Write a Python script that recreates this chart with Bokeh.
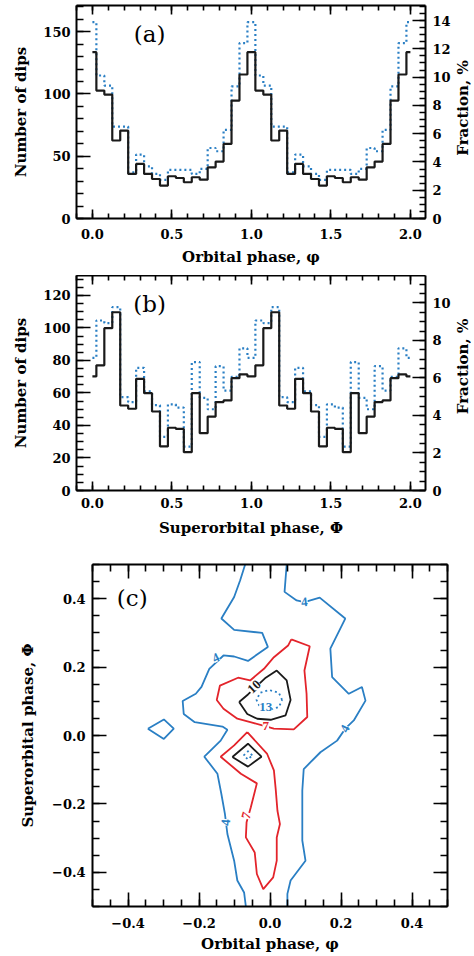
from bokeh.plotting import figure
from bokeh.models import (Range1d, LinearAxis, SingleIntervalTicker, ColumnDataSource,
                          Label, LabelSet, CustomJSTickFormatter, CustomLabelingPolicy)
from bokeh.layouts import column, row
from bokeh.embed import file_html
from bokeh.resources import INLINE
from bokeh.core.properties import value
import math

FONT = "DejaVu Serif"
BLUE = "#2a7fc4"
RED = "#e3242b"
BLACK = "#1a1a1a"

# ---------------- data ----------------
# bin centres of one cycle (phase)
phase_bins = [0.00, 0.05, 0.10, 0.15, 0.20, 0.25, 0.30, 0.35, 0.40, 0.45,
              0.50, 0.55, 0.60, 0.65, 0.70, 0.75, 0.80, 0.85, 0.90, 0.95]

# panel (a): number of dips vs orbital phase
orb_dips = [133.5, 102.7, 99.5, 62.6, 70.6, 35.8, 43.8, 35.8, 31.7, 26.4,
            33.9, 32.5, 29.1, 33.1, 31.2, 41.1, 45.7, 59.9, 94.7, 115.6]
orb_dotted = [157.6, 114.8, 106.7, 73.8, 73.8, 37.1, 51.3, 41.9, 35.8, 31.0,
              39.0, 39.0, 39.0, 35.8, 39.8, 56.6, 54.0, 71.1, 106.0, 140.8]

# panel (b): number of dips vs superorbital phase
sup_dips = [70.2, 77.0, 99.9, 109.7, 52.3, 50.3, 68.7, 59.9, 48.6, 27.1,
            38.6, 37.9, 23.6, 59.9, 35.3, 45.5, 54.4, 55.4, 69.1, 71.4]
sup_dotted = [81.6, 104.6, 103.0, 112.8, 57.4, 54.4, 75.5, 61.0, 52.5, 33.0,
              53.0, 51.0, 27.0, 79.0, 57.0, 50.0, 76.5, 61.5, 70.0, 87.5]

# dips per 1 % on the right-hand axes
orb_dips_per_pct = 11.35
sup_dips_per_pct = 11.54

# panel (c): contour lines (orbital phase, superorbital phase)
blue_left_x = [-0.070, -0.084, -0.101, -0.137, -0.101, -0.022, -0.006, -0.062, -0.101, -0.131,
               -0.171, -0.193, -0.209, -0.246, -0.243, -0.212, -0.134, -0.120, -0.139, -0.185,
               -0.148, -0.137, -0.127, -0.120, -0.101, -0.092, -0.073, -0.068]
blue_left_y = [0.500, 0.454, 0.405, 0.342, 0.309, 0.300, 0.259, 0.218, 0.231, 0.234,
               0.195, 0.142, 0.122, 0.101, 0.063, 0.039, 0.026, 0.017, -0.015, -0.062,
               -0.112, -0.171, -0.229, -0.288, -0.366, -0.424, -0.459, -0.500]
blue_right_x = [0.047, 0.041, 0.075, 0.097, 0.140, 0.212, 0.170, 0.175, 0.222, 0.259, 0.269,
                0.236, 0.212, 0.189, 0.142, 0.095, 0.091, 0.091, 0.100, 0.058, 0.049, 0.049]
blue_right_y = [0.500, 0.420, 0.395, 0.390, 0.403, 0.342, 0.254, 0.171, 0.122, 0.142, 0.102,
                0.044, 0.020, -0.015, -0.049, -0.098, -0.161, -0.307, -0.366, -0.424, -0.463, -0.500]
blue_island_x = [-0.344, -0.299, -0.271, -0.299, -0.344]
blue_island_y = [0.020, 0.047, 0.020, -0.010, 0.020]
red_upper_x = [0.060, 0.112, 0.097, 0.103, 0.105, 0.067, 0.011, -0.045, -0.092, -0.131,
               -0.150, -0.141, -0.090, -0.056, -0.017, 0.011, 0.051, 0.060]
red_upper_y = [0.281, 0.261, 0.190, 0.122, 0.054, 0.018, 0.020, 0.036, 0.049, 0.078,
               0.104, 0.146, 0.169, 0.161, 0.195, 0.229, 0.263, 0.281]
red_lower_x = [-0.064, -0.008, 0.011, 0.016, 0.021, 0.028, 0.019, 0.019, 0.009, -0.019,
               -0.037, -0.043, -0.068, -0.066, -0.054, -0.037, -0.082, -0.139, -0.101, -0.064]
red_lower_y = [0.010, -0.054, -0.102, -0.156, -0.220, -0.259, -0.298, -0.366, -0.415, -0.449,
               -0.405, -0.342, -0.298, -0.254, -0.210, -0.140, -0.112, -0.062, -0.029, 0.010]
black_upper_x = [-0.087, -0.062, -0.012, 0.019, 0.047, 0.058, 0.044, 0.002, -0.036, -0.064, -0.087]
black_upper_y = [0.098, 0.120, 0.169, 0.190, 0.161, 0.104, 0.059, 0.046, 0.049, 0.063, 0.098]
black_lower_x = [-0.106, -0.062, -0.024, -0.062, -0.106]
black_lower_y = [-0.063, -0.024, -0.062, -0.091, -0.063]
dot13_x = [0.034, 0.025, -0.002, -0.028, -0.038, -0.028, -0.002, 0.025, 0.034]
dot13_y = [0.104, 0.125, 0.133, 0.125, 0.104, 0.083, 0.075, 0.083, 0.104]
dot13b_x = [-0.050, -0.062, -0.074, -0.062, -0.050]
dot13b_y = [-0.058, -0.046, -0.058, -0.070, -0.058]

lab_x = [-0.152, 0.097, 0.212, -0.124, -0.012, -0.066, -0.044, -0.012]
lab_y = [0.227, 0.390, 0.020, -0.254, 0.029, -0.234, 0.142, 0.083]
lab_text = ["4", "4", "4", "4", "7", "7", "10", "13"]
lab_color = [BLUE, BLUE, BLUE, BLUE, RED, RED, BLACK, BLUE]
lab_angle = [0.45, 0.1, 1.1, 1.5, 0.0, 1.3, 0.75, 0.0]

NO_LABELS = CustomLabelingPolicy(code="""
for (const i of indices) { indices.unset(i) }
return indices
""")
FMT1 = CustomJSTickFormatter(code="""
    const t = Math.round(tick * 10) / 10;
    return (t < 0 ? "\\u2212" : "") + Math.abs(t).toFixed(1);
""")


def two_cycles_x(bins):
    return list(bins) + [b + 1 for b in bins] + [bins[0] + 2]


def two_cycles_y(vals):
    return list(vals) + list(vals) + [vals[0]]


def style_axis(ax, tick_in, minor_in, show_labels=True, label_size="13px",
               label_standoff=6, axis_label_standoff=5):
    ax.axis_line_width = 2
    ax.axis_line_color = "black"
    ax.major_tick_in = tick_in
    ax.major_tick_out = 0
    ax.minor_tick_in = minor_in
    ax.minor_tick_out = 0
    ax.major_tick_line_width = 1.6
    ax.minor_tick_line_width = 1.6
    ax.major_tick_line_color = "black"
    ax.minor_tick_line_color = "black"
    ax.major_label_text_font = FONT
    ax.major_label_text_font_style = "bold"
    ax.major_label_text_color = "black"
    if show_labels:
        ax.major_label_text_font_size = label_size
        ax.major_label_standoff = label_standoff
    else:
        ax.major_label_text_font_size = "0px"
        ax.major_label_standoff = 0
        ax.major_label_policy = NO_LABELS
    ax.axis_label_text_font = FONT
    ax.axis_label_text_font_style = "bold"
    ax.axis_label_text_font_size = "15px"
    ax.axis_label_text_color = "black"
    ax.axis_label_standoff = axis_label_standoff


def base_fig(xr, yr, fw, fh, left, right, top, bottom):
    p = figure(x_range=xr, y_range=yr, frame_width=fw, frame_height=fh,
               min_border_left=left, min_border_right=right,
               min_border_top=top, min_border_bottom=bottom,
               output_backend="svg", toolbar_location=None,
               x_axis_type=None, y_axis_type=None)
    p.grid.visible = False
    p.outline_line_color = None
    p.background_fill_color = "white"
    p.border_fill_color = "white"
    return p


def hist_panel(vals, dotted, ymax, dips_per_pct, xlabel, tag, tag_y, frac_y, frame_h,
               top, bottom, ymajor, yminor_n, x_label_standoff, x_axis_label_standoff):
    p = base_fig(Range1d(-0.1, 2.095), Range1d(0, ymax), 349, frame_h, 76, 27, top, bottom)
    p.extra_y_ranges = {"frac": Range1d(0, ymax / dips_per_pct)}
    xt = SingleIntervalTicker(interval=0.5, num_minor_ticks=5)
    yt = SingleIntervalTicker(interval=ymajor, num_minor_ticks=yminor_n)
    ft = SingleIntervalTicker(interval=2, num_minor_ticks=4)

    xb = LinearAxis(ticker=xt, formatter=FMT1, axis_label=xlabel)
    style_axis(xb, 9, 5, label_standoff=x_label_standoff,
               axis_label_standoff=x_axis_label_standoff)
    p.add_layout(xb, "below")
    xa = LinearAxis(ticker=xt)
    style_axis(xa, 9, 5, show_labels=False)
    p.add_layout(xa, "above")
    yl = LinearAxis(ticker=yt, axis_label="Number of dips")
    style_axis(yl, 14, 7, label_standoff=6, axis_label_standoff=10)
    p.add_layout(yl, "left")
    yr = LinearAxis(ticker=ft, y_range_name="frac")
    style_axis(yr, 13, 6, label_standoff=7)
    p.add_layout(yr, "right")

    xs = two_cycles_x(phase_bins)
    p.step(xs, two_cycles_y(dotted), mode="center", line_color=BLUE,
           line_width=2.2, line_dash="2 3")
    p.step(xs, two_cycles_y(vals), mode="center", line_color=BLACK, line_width=2.2)
    p.add_layout(Label(x=0.36, y=tag_y, text=tag, text_font=FONT, text_font_size="23px",
                       text_align="center", text_baseline="middle", text_color="black"))

    # narrow companion figure carrying the right-hand axis title (reads bottom-to-top)
    q = base_fig(Range1d(0, 1), Range1d(0, ymax), 18, frame_h, 0, 0, top, bottom)
    q.text(x=[0.5], y=[frac_y], text=["Fraction, %"], angle=math.pi / 2,
           text_font=value(FONT), text_font_style="bold", text_font_size="15px",
           text_align="center", text_baseline="middle", text_color="black")
    return row(p, q)


r1 = hist_panel(orb_dips, orb_dotted, 171.0, orb_dips_per_pct, "Orbital phase, \u03c6",
                "(a)", 148.0, 88.7, 213, 5, 57, 50, 5, 10, 6)
r2 = hist_panel(sup_dips, sup_dotted, 132.3, sup_dips_per_pct, "Superorbital phase, \u03a6",
                "(b)", 115.0, 76.3, 215, 0, 55, 20, 4, 7, 8)

# ---------------- panel (c) ----------------
p3 = base_fig(Range1d(-0.5, 0.5), Range1d(-0.5, 0.5), 355, 342, 92, 27, 19, 46)
ct = SingleIntervalTicker(interval=0.2, num_minor_ticks=4)
cb = LinearAxis(ticker=ct, formatter=FMT1, axis_label="Orbital phase, \u03c6")
style_axis(cb, 14, 7, label_standoff=11, axis_label_standoff=4)
p3.add_layout(cb, "below")
ca = LinearAxis(ticker=ct)
style_axis(ca, 14, 7, show_labels=False)
p3.add_layout(ca, "above")
cl = LinearAxis(ticker=ct, formatter=FMT1, axis_label="Superorbital phase, \u03a6")
style_axis(cl, 14, 7, label_standoff=7, axis_label_standoff=12)
p3.add_layout(cl, "left")
cr = LinearAxis(ticker=ct)
style_axis(cr, 14, 7, show_labels=False)
p3.add_layout(cr, "right")

LW = 1.8
p3.line(blue_left_x, blue_left_y, line_color=BLUE, line_width=LW)
p3.line(blue_right_x, blue_right_y, line_color=BLUE, line_width=LW)
p3.line(blue_island_x, blue_island_y, line_color=BLUE, line_width=LW)
p3.line(red_upper_x, red_upper_y, line_color=RED, line_width=LW)
p3.line(red_lower_x, red_lower_y, line_color=RED, line_width=LW)
p3.line(black_upper_x, black_upper_y, line_color=BLACK, line_width=LW)
p3.line(black_lower_x, black_lower_y, line_color=BLACK, line_width=LW)
p3.line(dot13_x, dot13_y, line_color=BLUE, line_width=1.8, line_dash="2 3")
p3.line(dot13b_x, dot13b_y, line_color=BLUE, line_width=1.8, line_dash="2 3")

lab_src = ColumnDataSource(dict(x=lab_x, y=lab_y, text=lab_text, color=lab_color, angle=lab_angle))
p3.add_layout(LabelSet(x="x", y="y", text="text", angle="angle", source=lab_src,
                       text_color="color", text_font=FONT, text_font_style="bold",
                       text_font_size="13px", text_align="center", text_baseline="middle",
                       background_fill_color="white"))
p3.add_layout(Label(x=-0.388, y=0.401, text="(c)", text_font=FONT, text_font_size="23px",
                    text_align="center", text_baseline="middle", text_color="black"))

layout = column(r1, r2, row(p3))
open("out.html", "w").write(file_html(layout, INLINE))
